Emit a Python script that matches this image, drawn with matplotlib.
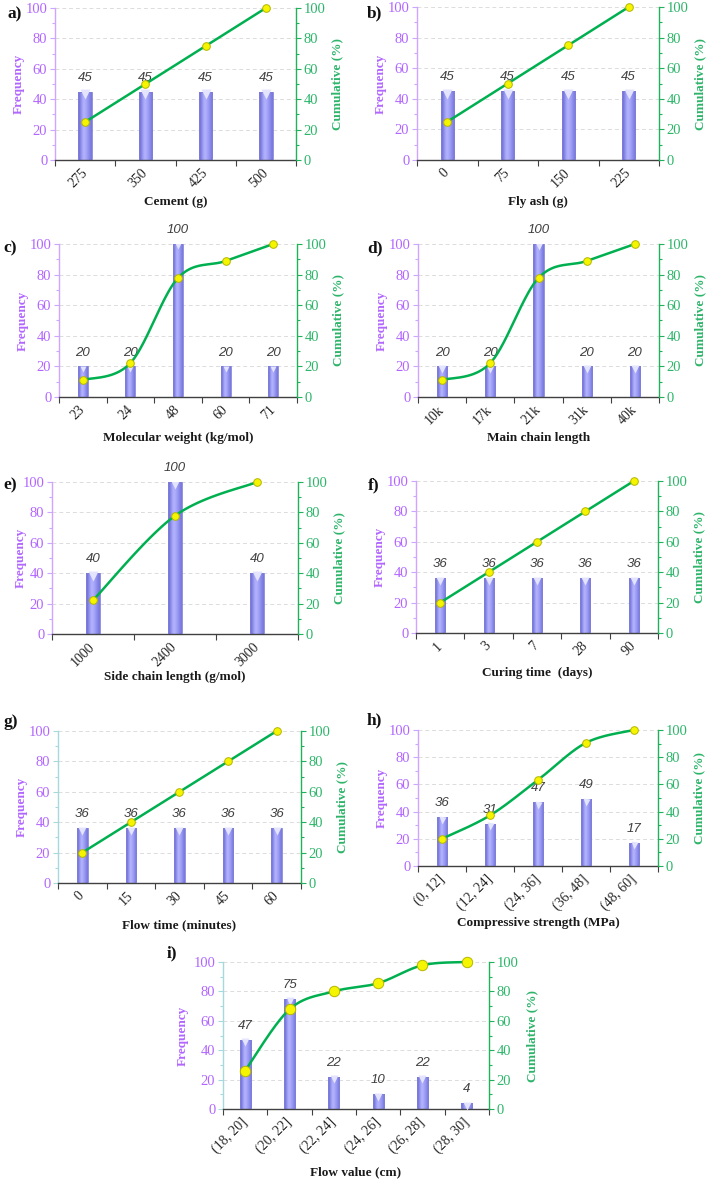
import numpy as np
import matplotlib
matplotlib.use('Agg')
import matplotlib.pyplot as plt
from matplotlib.ticker import MultipleLocator, FixedLocator
from matplotlib.colors import LinearSegmentedColormap
import matplotlib.transforms as mtransforms

plt.rcParams['font.family'] = ['Liberation Serif', 'DejaVu Serif']

W, H = 708, 1181

# ---------------- data ----------------
a_cats = ['275', '350', '425', '500']
a_freq = [45, 45, 45, 45]
a_cum = [25, 50, 75, 100]

b_cats = ['0', '75', '150', '225']
b_freq = [45, 45, 45, 45]
b_cum = [25, 50, 75, 100]

c_cats = ['23', '24', '48', '60', '71']
c_freq = [20, 20, 100, 20, 20]
c_cum = [11.1, 22.2, 77.8, 88.9, 100]

d_cats = ['10k', '17k', '21k', '31k', '40k']
d_freq = [20, 20, 100, 20, 20]
d_cum = [11.1, 22.2, 77.8, 88.9, 100]

e_cats = ['1000', '2400', '3000']
e_freq = [40, 100, 40]
e_cum = [22.2, 77.8, 100]

f_cats = ['1', '3', '7', '28', '90']
f_freq = [36, 36, 36, 36, 36]
f_cum = [20, 40, 60, 80, 100]

g_cats = ['0', '15', '30', '45', '60']
g_freq = [36, 36, 36, 36, 36]
g_cum = [20, 40, 60, 80, 100]

h_cats = ['(0, 12]', '(12, 24]', '(24, 36]', '(36, 48]', '(48, 60]']
h_freq = [36, 31, 47, 49, 17]
h_cum = [20, 37.2, 63.3, 90.6, 100]

i_cats = ['(18, 20]', '(20, 22]', '(22, 24]', '(24, 26]', '(26, 28]', '(28, 30]']
i_freq = [47, 75, 22, 10, 22, 4]
i_cum = [26.1, 67.8, 80, 85.6, 97.8, 100]

# ---------------- style ----------------
PURPLE_TXT = '#B266FF'
PURPLE_SPINE = '#CFA6FF'
TEAL_SPINE = '#A6D9DC'
GREEN_SPINE = '#1FB25A'
GREEN_TXT = '#2DB56A'
LINE_GREEN = '#00B050'
BAR_CMAP = LinearSegmentedColormap.from_list('bar', ['#6E6ED4', '#9393F0', '#B8B8FF'])

fig = plt.figure(figsize=(W / 100, H / 100), dpi=100)


def smooth_curve(xs, ys, n=40):
    P = np.column_stack([np.asarray(xs, float), np.asarray(ys, float)])
    Pp = np.vstack([P[0], P, P[-1]])
    t = np.linspace(0, 1, n)[:, None]
    out = []
    for k in range(len(P) - 1):
        p0, p3 = P[k], P[k + 1]
        c1 = p0 + (Pp[k + 2] - Pp[k]) / 6
        c2 = p3 - (Pp[k + 3] - Pp[k + 1]) / 6
        seg = (1 - t) ** 3 * p0 + 3 * (1 - t) ** 2 * t * c1 + 3 * (1 - t) * t ** 2 * c2 + t ** 3 * p3
        out.append(seg if k == 0 else seg[1:])
    return np.vstack(out)


def panel(rect, letter, letter_pos, cats, freq, cum, xlabel, xlab_off,
          smooth=False, barw=0.22, lspine=PURPLE_SPINE, msize=5.5,
          ylab_l=-36, ylab_r=41):
    l, r, t, b = rect
    wpx, hpx = r - l, b - t
    ax = fig.add_axes([l / W, 1 - b / H, wpx / W, hpx / H])
    n = len(cats)
    x = np.arange(n)

    # bars with a soft cylindrical shading
    grad = np.array([[0.0, 0.55, 1.0, 0.75, 0.5, 0.15]])
    for xi, hi in zip(x, freq):
        bar = ax.bar(xi, hi, width=barw, color='none', edgecolor='#8080DA',
                     linewidth=0.6, zorder=3)[0]
        im = ax.imshow(grad, cmap=BAR_CMAP, extent=[xi - barw / 2, xi + barw / 2, 0, hi],
                       aspect='auto', interpolation='bicubic', zorder=2.5)
        im.set_clip_path(bar)
    # light cap at the top of each bar
    bar_px = barw * wpx / n
    cap_trans = mtransforms.offset_copy(ax.transData, fig=fig, y=-1.8, units='points')
    ax.plot(x, freq, ls='none', marker='v', markersize=bar_px * 0.5,
            markerfacecolor='#E4E4FF', markeredgecolor='none', transform=cap_trans, zorder=3.5)

    # data labels
    for xi, hi in zip(x, freq):
        ax.annotate(f'{hi}', (xi, hi), xytext=(0, 10), textcoords='offset points',
                    ha='center', va='center', fontsize=9.5, fontstyle='italic',
                    family=['Liberation Sans', 'DejaVu Sans'], color='#3F3F3F', zorder=4)

    ax.set_xlim(-0.5, n - 0.5)
    ax.set_ylim(0, 100)
    ax.yaxis.set_major_locator(MultipleLocator(20))
    ax.yaxis.set_minor_locator(MultipleLocator(10))
    ax.yaxis.grid(True, which='major', ls=(0, (4, 3)), color='#DCDCDC', lw=0.7)
    ax.set_axisbelow(True)
    ax.set_xticks(x)
    ax.set_xticklabels(cats, rotation=45, ha='right', va='center',
                       rotation_mode='anchor', fontsize=10, color='#262626')
    ax.xaxis.set_minor_locator(FixedLocator(np.arange(-0.5, n, 1.0)))
    ax.tick_params(axis='x', which='major', length=0, pad=8)
    ax.tick_params(axis='x', which='minor', length=4, width=0.8, color='#404040', direction='out')
    ax.tick_params(axis='y', which='both', direction='out', color=lspine, width=0.8,
                   labelcolor=PURPLE_TXT, labelsize=10.5, pad=2)
    ax.tick_params(axis='y', which='major', length=3.5)
    ax.tick_params(axis='y', which='minor', length=2.5)
    for s in ('top', 'right'):
        ax.spines[s].set_visible(False)
    ax.spines['left'].set_color(lspine)
    ax.spines['left'].set_linewidth(1.0)
    ax.spines['bottom'].set_color('#404040')
    ax.spines['bottom'].set_linewidth(1.0)
    ax.set_ylabel('Frequency', color=PURPLE_TXT, fontweight='bold', fontsize=9.5)
    ax.yaxis.set_label_coords((ylab_l + 6) / wpx, 0.5)
    ax.text(0.5, -xlab_off / hpx, xlabel, transform=ax.transAxes, ha='center', va='center',
            fontweight='bold', fontsize=9.5, color='#1A1A1A')

    ax2 = ax.twinx()
    ax2.set_ylim(0, 100)
    ax2.yaxis.set_major_locator(MultipleLocator(20))
    ax2.yaxis.set_minor_locator(MultipleLocator(10))
    ax2.tick_params(axis='y', which='both', direction='out', color=GREEN_SPINE, width=0.8,
                    labelcolor=GREEN_TXT, labelsize=10.5, pad=2)
    ax2.tick_params(axis='y', which='major', length=3.5)
    ax2.tick_params(axis='y', which='minor', length=2.5)
    for s in ('top', 'left', 'bottom'):
        ax2.spines[s].set_visible(False)
    ax2.spines['right'].set_color(GREEN_SPINE)
    ax2.spines['right'].set_linewidth(1.0)
    ax2.set_ylabel('Cumulative (%)', color=GREEN_TXT, fontweight='bold', fontsize=9.5)
    ax2.yaxis.set_label_coords(1 + (ylab_r - 6) / wpx, 0.5)

    if smooth:
        pts = smooth_curve(x, cum)
        ax2.plot(pts[:, 0], pts[:, 1], color=LINE_GREEN, lw=1.8, zorder=3, clip_on=False)
    else:
        ax2.plot(x, cum, color=LINE_GREEN, lw=1.8, zorder=3, clip_on=False)
    ax2.plot(x, cum, ls='none', marker='o', markersize=msize, markerfacecolor='#F5F500',
             markeredgecolor='#B5B500', markeredgewidth=0.7, zorder=4, clip_on=False)

    fig.text(letter_pos[0] / W, 1 - letter_pos[1] / H, letter, ha='left', va='center',
             fontsize=12.5, fontweight='bold', color='#111111')
    return ax, ax2


panel((55, 296, 8, 160), 'a)', (8, 14), a_cats, a_freq, a_cum, 'Cement (g)', 42)
panel((417, 659, 7, 160), 'b)', (367, 13), b_cats, b_freq, b_cum, 'Fly ash (g)', 42)
panel((59, 297, 244, 397), 'c)', (3, 248), c_cats, c_freq, c_cum, 'Molecular weight (kg/mol)', 41,
      smooth=True, barw=0.21)
panel((418, 659, 244, 397), 'd)', (367, 248), d_cats, d_freq, d_cum, 'Main chain length', 41,
      smooth=True, barw=0.21)
panel((52, 298, 482, 634), 'e)', (3, 485), e_cats, e_freq, e_cum, 'Side chain length (g/mol)', 43,
      smooth=True, barw=0.16, ylab_l=-31)
panel((416, 658, 481, 633), 'f)', (368, 485), f_cats, f_freq, f_cum, 'Curing time  (days)', 40,
      barw=0.21)
panel((58, 301, 731, 883), 'g)', (3, 722), g_cats, g_freq, g_cum, 'Flow time (minutes)', 42,
      barw=0.22, lspine=TEAL_SPINE)
panel((418, 658, 730, 866), 'h)', (367, 720), h_cats, h_freq, h_cum, 'Compressive strength (MPa)', 57,
      smooth=True, barw=0.21)
panel((223, 489, 962, 1109), 'i)', (167, 953), i_cats, i_freq, i_cum, 'Flow value (cm)', 63,
      smooth=True, barw=0.25, lspine=TEAL_SPINE, msize=7.5, ylab_l=-40, ylab_r=43)

fig.savefig('out.png', dpi=100)
